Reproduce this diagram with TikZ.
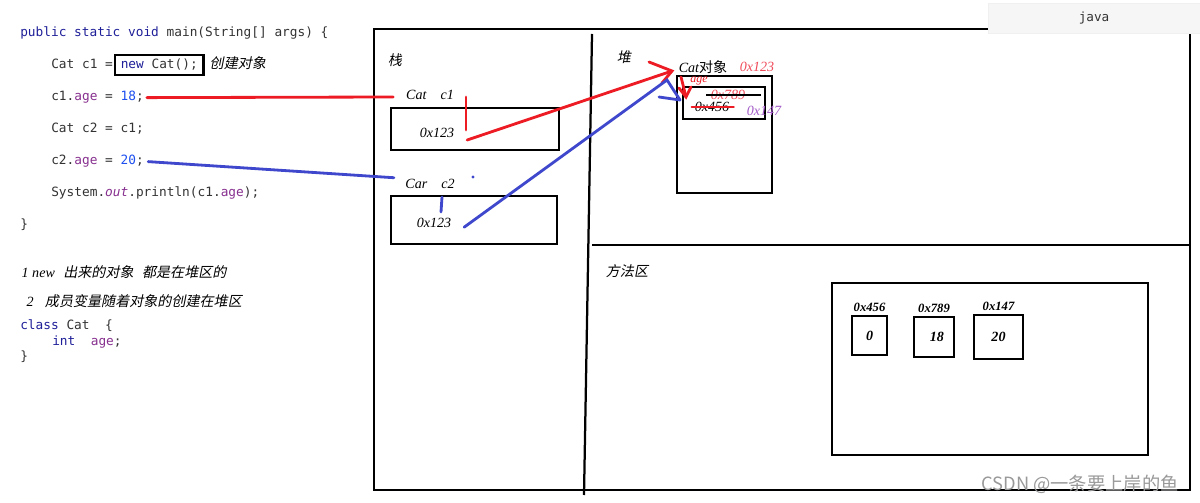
\documentclass[tikz,border=0pt]{standalone}
\usepackage{fontspec}
\setmainfont{Liberation Serif}
\setmonofont{DejaVu Sans Mono}
\newfontfamily\hanfont{Noto Sans CJK SC}[FakeSlant=0.2]
\newfontfamily\hanplain{Noto Sans CJK SC}
\usetikzlibrary{arrows.meta, positioning, calc}
\definecolor{codegray}{HTML}{333333}
\definecolor{kwblue}{HTML}{1F1F99}
\definecolor{fldpurple}{HTML}{87308F}
\definecolor{numblue}{HTML}{1E50F0}
\definecolor{penred}{HTML}{ED1C24}
\definecolor{penblue}{HTML}{3F48CC}
\definecolor{addrred}{HTML}{F04B5A}
\definecolor{addrpurple}{HTML}{A35BC8}
\definecolor{tabgray}{HTML}{F6F6F6}
\newcommand{\jkw}[1]{\textcolor{kwblue}{#1}}
\newcommand{\jfld}[1]{\textcolor{fldpurple}{#1}}
\newcommand{\jnum}[1]{\textcolor{numblue}{#1}}
\tikzset{
  >=Latex,
  code/.style={anchor=base west, inner sep=0pt, text=codegray,
    font=\ttfamily\fontsize{9.1}{11}\selectfont},
  hand/.style={inner sep=1pt, font=\itshape\fontsize{10}{12}\selectfont},
  hanzi/.style={inner sep=1pt, font=\hanfont\fontsize{10}{12}\selectfont},
  addrlbl/.style={inner sep=1pt, font=\bfseries\itshape\fontsize{9}{10}\selectfont},
  panel/.style={line width=1.6pt},
  cell/.style={draw, line width=#1, inner sep=0pt},
  cell/.default=1.8pt,
  redpen/.style={draw=penred, line width=2pt, line cap=round},
  bluepen/.style={draw=penblue, line width=2pt, line cap=round}
}
\begin{document}
\begin{tikzpicture}[x=0.025cm, y=-0.025cm]
  \useasboundingbox[fill=white] (0,0) rectangle (1200,503);

  % source code
  \node[code] (sig) at (20,37) {\jkw{public static void} main(String[] args) \{};
  \node[code] (decl1) at (51,69) {Cat c1 =};
  \node[code, draw=black, line width=1.6pt, inner xsep=4pt, inner ysep=3pt] (newcat) at (114,69) {\jkw{new} Cat();};
  \node[hanzi, anchor=base west] (create) at (208,69) {创建对象};
  \node[code] (c1age) at (51,101) {c1.\jfld{age} = \jnum{18};};
  \node[code] (decl2) at (51,133) {Cat c2 = c1;};
  \node[code] (c2age) at (51,165) {c2.\jfld{age} = \jnum{20};};
  \node[code] (print) at (51,197) {System.\jfld{\textit{out}}.println(c1.\jfld{age});};
  \node[code] (close1) at (20,229) {\}};
  \node[hand, anchor=base west] (note1) at (20,278) {1 new\hspace{6pt}{\hanfont 出来的对象\hspace{6pt}都是在堆区的}};
  \node[hand, anchor=base west] (note2) at (25,307) {2\hspace{8pt}{\hanfont 成员变量随着对象的创建在堆区}};
  \node[code] (cls) at (20,330) {\jkw{class} Cat~~\{};
  \node[code] (fld) at (52,346) {\jkw{int}~~\jfld{age};};
  \node[code] (close2) at (20,361) {\}};

  % memory frame
  \draw[panel] (374,29) rectangle (1190,490);
  \draw[panel] (592,34) -- (584,495);
  \draw[panel] (592,245) -- (1190,245);
  \node[hanzi] (stacklbl) at (395,60) {栈};
  \node[hanzi] (heaplbl) at (624,57) {堆};
  \node[hanzi] (methodlbl) at (627,271) {方法区};

  % stack
  \node[hand] (catc1) at (430,95) {Cat\quad c1};
  \node[cell, minimum width=4.2cm, minimum height=1.05cm] (slot1) at (475,129) {};
  \node[hand] (addr1) at (437,133) {0x123};
  \node[hand] (carc2) at (430,184) {Car\quad c2};
  \node[cell, minimum width=4.15cm, minimum height=1.2cm] (slot2) at (474,220) {};
  \node[hand] (addr2) at (434,223) {0x123};
  \draw[redpen] (466,97) -- (466,130);
  \draw[bluepen] (442,197) -- (441,212);
  \fill[penblue] (473,177) circle (1.2pt);

  % heap
  \node[cell, minimum width=2.375cm, minimum height=2.925cm] (catobj) at (724.5,134.5) {};
  \node[cell=1.5pt, minimum width=2.05cm, minimum height=0.8cm] (agefld) at (724,103) {};
  \node[hand] (objlbl) at (703,67) {Cat{\hanplain 对象}};
  \node[hand, text=addrred] (objaddr) at (757,67) {0x123};
  \node[hand, text=penred, font=\itshape\fontsize{8.5}{10}\selectfont] (agelbl) at (699,81) {age};
  \node[hand, text=addrred] (old789) at (728,95) {0x789};
  \draw[line width=1.5pt] ([xshift=-2pt]old789.west) -- ([xshift=10pt]old789.east);
  \node[hand] (old456) at (712,107) {0x456};
  \draw[redpen, line width=1.6pt] ([xshift=-1pt]old456.west) -- ([xshift=2pt]old456.east);
  \node[hand, text=addrpurple] (new147) at (764,111) {0x147};

  % references
  \draw[redpen, shorten >=8pt] ([xshift=2pt]c1age.east) -- ([yshift=-1.4pt]catc1.west);
  \draw[bluepen, shorten >=7pt] ([xshift=3pt]c2age.east) -- ([yshift=4pt]carc2.west);
  \coordinate (redtip) at (672,71);
  \coordinate (bluebend) at (667,80);
  \coordinate (bluetip) at (680,100);
  \draw[redpen] ([xshift=8pt,yshift=-5pt]addr1.east) -- (redtip);
  \draw[redpen] (649,62) -- (redtip) -- (662,83);
  \draw[redpen] (681,77) -- (686,97);
  \draw[redpen] (679,88) -- (686,97) -- (691,87);
  \draw[bluepen] ([xshift=8pt,yshift=-3pt]addr2.east) -- (bluebend) -- (bluetip);
  \draw[bluepen] (659,97) -- (bluetip);

  % method area
  \node[cell=2pt, minimum width=7.9cm, minimum height=4.3cm] (methodarea) at (990,369) {};
  \node[cell=2pt, minimum width=0.875cm, minimum height=0.975cm, font=\bfseries\itshape\fontsize{10}{12}\selectfont] (val0) at (869.5,335.5) {0};
  \node[cell=2pt, minimum width=1cm, minimum height=1cm, font=\bfseries\itshape\fontsize{10}{12}\selectfont] (val18) at (934,337) {\hspace{4pt}18};
  \node[cell=2pt, minimum width=1.225cm, minimum height=1.1cm, font=\bfseries\itshape\fontsize{10}{12}\selectfont] (val20) at (998.5,337) {20};
  \node[addrlbl, above=0.04cm of val0] (lbl456) {0x456};
  \node[addrlbl, above=0.04cm of val18] (lbl789) {0x789};
  \node[addrlbl, above=0.04cm of val20] (lbl147) {0x147};

  % language tab and watermark
  \node[fill=tabgray, draw=black!6, minimum width=5.3cm, minimum height=0.75cm, inner sep=0pt,
    font=\ttfamily\fontsize{9}{10}\selectfont, text=black!80] (langtab) at (1094,18) {java};
  \node[font=\hanplain\fontsize{13}{14}\selectfont, text=black!40] (mark) at (1080,484) {CSDN @一条要上岸的鱼};
\end{tikzpicture}
\end{document}
